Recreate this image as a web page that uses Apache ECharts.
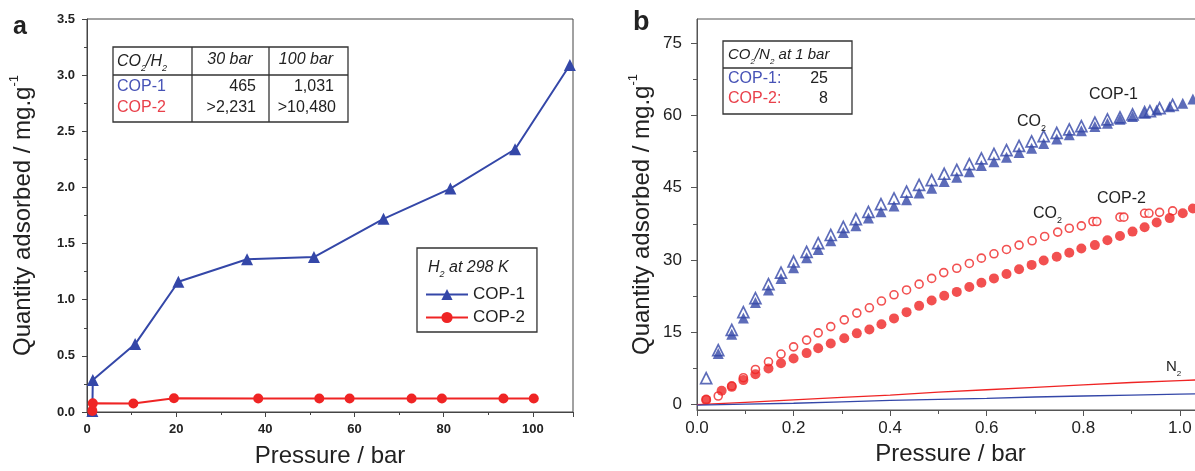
<!DOCTYPE html>
<html>
<head>
<meta charset="utf-8">
<title>COP-1 / COP-2 gas uptake</title>
<script src="https://cdn.jsdelivr.net/npm/echarts@6/dist/echarts.min.js"></script>
<style>
  html, body { margin: 0; padding: 0; background: #fff; }
  #chart { width: 1195px; height: 471px; }
</style>
</head>
<body>
<div id="chart"></div>
<script>
// panel a: H2 uptake at 298 K (bar, mg/g)
const h2PressureCop1 = [1.2, 1.3, 10.8, 20.5, 35.9, 50.9, 66.5, 81.5, 96.0, 108.3]
const h2Cop1 = [0.01, 0.285, 0.605, 1.16, 1.36, 1.38, 1.72, 1.99, 2.34, 3.09]
const h2PressureCop2 = [1.2, 1.3, 10.4, 19.5, 38.4, 52.1, 58.9, 72.8, 79.6, 93.4, 100.2]
const h2Cop2 = [0.01, 0.077, 0.075, 0.122, 0.12, 0.12, 0.12, 0.12, 0.12, 0.12, 0.12]

// panel b: CO2 / N2 uptake (bar, mg/g)
const cop1OpenP = [0.019, 0.044, 0.072, 0.096, 0.121, 0.148, 0.174, 0.2, 0.227, 0.251, 0.277, 0.303, 0.329, 0.355, 0.381, 0.408, 0.434, 0.46, 0.486, 0.512, 0.538, 0.564, 0.589, 0.615, 0.641, 0.667, 0.693, 0.718, 0.745, 0.771, 0.796, 0.824, 0.85, 0.876, 0.902, 0.927, 0.938, 0.958, 0.985]
const cop1Open = [5.5, 11.3, 15.5, 19.2, 22.1, 25.0, 27.4, 29.7, 31.7, 33.5, 35.2, 36.9, 38.5, 40.0, 41.6, 42.8, 44.2, 45.6, 46.6, 47.9, 48.7, 49.9, 51.1, 52.0, 52.8, 53.7, 54.6, 55.7, 56.4, 57.1, 57.8, 58.5, 59.2, 59.6, 60.2, 60.7, 60.9, 61.5, 62.2]
const cop1FilledP = [0.044, 0.072, 0.096, 0.121, 0.148, 0.174, 0.2, 0.227, 0.251, 0.277, 0.303, 0.329, 0.355, 0.381, 0.408, 0.434, 0.46, 0.486, 0.512, 0.538, 0.564, 0.589, 0.615, 0.641, 0.667, 0.693, 0.718, 0.745, 0.771, 0.796, 0.824, 0.85, 0.876, 0.902, 0.927, 0.952, 0.979, 1.006, 1.027]
const cop1Filled = [10.6, 14.6, 18.0, 21.2, 23.8, 26.2, 28.4, 30.5, 32.2, 34.0, 35.7, 37.1, 38.7, 40.0, 41.2, 42.5, 43.9, 44.9, 46.3, 47.2, 48.3, 49.6, 50.4, 51.3, 52.3, 53.2, 54.2, 55.1, 56.0, 56.8, 57.7, 58.4, 59.2, 59.8, 60.5, 61.1, 61.8, 62.5, 63.4]
const cop2OpenP = [0.019, 0.044, 0.072, 0.096, 0.121, 0.148, 0.174, 0.2, 0.227, 0.251, 0.277, 0.305, 0.331, 0.357, 0.382, 0.408, 0.434, 0.46, 0.486, 0.511, 0.538, 0.564, 0.589, 0.615, 0.641, 0.667, 0.694, 0.72, 0.747, 0.771, 0.796, 0.82, 0.828, 0.876, 0.884, 0.927, 0.936, 0.958, 0.985]
const cop2Open = [1.1, 1.8, 3.9, 5.6, 7.3, 8.9, 10.5, 12.0, 13.4, 14.9, 16.2, 17.6, 19.0, 20.1, 21.5, 22.8, 23.8, 25.0, 26.2, 27.4, 28.3, 29.3, 30.4, 31.3, 32.2, 33.1, 34.0, 34.9, 35.8, 36.6, 37.1, 38.0, 38.0, 38.9, 38.9, 39.7, 39.7, 39.9, 40.2]
const cop2FilledP = [0.019, 0.051, 0.072, 0.096, 0.121, 0.148, 0.174, 0.2, 0.227, 0.251, 0.277, 0.305, 0.331, 0.357, 0.382, 0.408, 0.434, 0.46, 0.486, 0.512, 0.538, 0.564, 0.589, 0.615, 0.641, 0.667, 0.693, 0.718, 0.745, 0.771, 0.796, 0.824, 0.85, 0.876, 0.902, 0.927, 0.952, 0.979, 1.006, 1.027]
const cop2Filled = [1.0, 2.9, 3.7, 5.1, 6.3, 7.5, 8.6, 9.6, 10.7, 11.7, 12.7, 13.8, 14.8, 15.6, 16.7, 17.9, 19.2, 20.5, 21.6, 22.6, 23.4, 24.4, 25.3, 26.2, 27.1, 28.1, 29.0, 29.9, 30.7, 31.5, 32.4, 33.1, 34.1, 35.0, 35.9, 36.8, 37.8, 38.7, 39.7, 40.7]
const n2P = [0, 0.1, 0.2, 0.3, 0.4, 0.5, 0.6, 0.7, 0.8, 0.9, 1.0, 1.05]
const n2Cop1 = [-0.1, 0.1, 0.3, 0.6, 0.9, 1.1, 1.3, 1.6, 1.8, 2.0, 2.2, 2.3]
const n2Cop2 = [0, 0.5, 1.0, 1.5, 2.0, 2.6, 3.1, 3.6, 4.1, 4.6, 5.0, 5.2]

// tick values / table texts
const bYTicks = [0, 15, 30, 45, 60, 75]
const bYMinorTicks = [7.5, 22.5, 37.5, 52.5, 67.5]
const h2TableHeads = ['30 bar', '100 bar']
const co2h2Cop1 = ['465', '1,031']
const co2h2Cop2 = ['>2,231', '>10,480']
const co2n2 = ['25', '8']

const BLUE = '#3447a8'
const RED = '#ef2424'
const TXT_BLUE = '#4652b6'
const TXT_RED = '#e9404a'
const FONT = '"Liberation Sans", Arial, sans-serif'
const AX = '#444'

function zip (xs, ys) {
  return xs.map((x, i) => [x, ys[i]])
}

function txt (x, y, text, opt) {
  opt = opt || {}
  return {
    type: 'text',
    x: x,
    y: y,
    z: 100,
    style: {
      text: text,
      fill: opt.color || '#222',
      font: (opt.italic ? 'italic ' : '') + (opt.bold ? 'bold ' : '') + (opt.size || 16) + 'px ' + FONT,
      align: opt.align || 'left',
      verticalAlign: 'middle',
      rich: opt.rich
    }
  }
}

function subRich (size, italic) {
  return {
    t: { fontSize: size, fontStyle: italic ? 'italic' : 'normal', fontFamily: FONT, color: '#222', lineHeight: size + 6 },
    s: { fontSize: Math.round(size * 0.55), fontStyle: italic ? 'italic' : 'normal', fontFamily: FONT, color: '#222', lineHeight: Math.round(size * 0.55), verticalAlign: 'bottom' }
  }
}

function boxLine (x1, y1, x2, y2) {
  return { type: 'line', z: 100, shape: { x1: x1, y1: y1, x2: x2, y2: y2 }, style: { stroke: '#333', lineWidth: 1.3 } }
}

const yNameRich = {
  t: { fontSize: 24, fontFamily: FONT, color: '#222', lineHeight: 30 },
  sup: { fontSize: 13, fontFamily: FONT, color: '#222', lineHeight: 13, verticalAlign: 'top' }
}

let graphics = [
  txt(13, 27, 'a', { bold: true, size: 25 }),
  txt(633, 23, 'b', { bold: true, size: 27 }),
  // table a
  { type: 'rect', z: 100, shape: { x: 113, y: 47, width: 235, height: 75 }, style: { fill: '#fff', stroke: '#333', lineWidth: 1.3 } },
  boxLine(192, 47, 192, 122),
  boxLine(269, 47, 269, 122),
  boxLine(113, 75, 348, 75),
  txt(117, 62, '{t|CO}{s|2}{t|/H}{s|2}', { rich: subRich(16, true) }),
  txt(230, 60, h2TableHeads[0], { italic: true, align: 'center' }),
  txt(306, 60, h2TableHeads[1], { italic: true, align: 'center' }),
  txt(117, 87, 'COP-1', { color: TXT_BLUE }),
  txt(117, 108, 'COP-2', { color: TXT_RED }),
  txt(256, 87, co2h2Cop1[0], { align: 'right' }),
  txt(334, 87, co2h2Cop1[1], { align: 'right' }),
  txt(256, 108, co2h2Cop2[0], { align: 'right' }),
  txt(336, 108, co2h2Cop2[1], { align: 'right' }),
  // legend title a
  txt(428, 268, '{t|H}{s|2}{t| at 298 K}', { rich: subRich(16, true) }),
  // table b
  { type: 'rect', z: 100, shape: { x: 723, y: 41, width: 129, height: 73 }, style: { fill: '#fff', stroke: '#333', lineWidth: 1.3 } },
  boxLine(723, 68, 852, 68),
  txt(728, 55, '{t|CO}{s|2}{t|/N}{s|2}{t| at 1 bar}', { rich: subRich(15, true) }),
  txt(728, 79, 'COP-1:', { color: TXT_BLUE }),
  txt(728, 99, 'COP-2:', { color: TXT_RED }),
  txt(828, 79, co2n2[0], { align: 'right' }),
  txt(828, 99, co2n2[1], { align: 'right' }),
  // curve labels b
  txt(1089, 95, 'COP-1'),
  txt(1017, 122, '{t|CO}{s|2}', { rich: subRich(16, false) }),
  txt(1097, 199, 'COP-2'),
  txt(1033, 214, '{t|CO}{s|2}', { rich: subRich(16, false) }),
  txt(1166, 367, '{t|N}{s|2}', { rich: subRich(15, false) })
]

let chart = echarts.init(document.getElementById('chart'))
let option = {
  animation: false,
  backgroundColor: '#fff',
  textStyle: { fontFamily: FONT },
  grid: [
    { left: 87, top: 19, width: 486, height: 393, show: true, borderColor: AX, borderWidth: 1, outerBoundsMode: 'none' },
    { left: 697, top: 19, width: 507, height: 391, show: true, borderColor: '#555', borderWidth: 1, outerBoundsMode: 'none' }
  ],
  legend: {
    data: ['COP-1', 'COP-2'],
    orient: 'vertical',
    left: 417,
    top: 248,
    padding: [38, 12, 6, 8],
    itemGap: 6,
    itemWidth: 42,
    itemHeight: 14,
    borderColor: '#333',
    borderWidth: 1.3,
    backgroundColor: '#fff',
    textStyle: { fontSize: 17, fontFamily: FONT, color: '#222' },
    selectedMode: false
  },
  xAxis: [
    {
      gridIndex: 0,
      type: 'value',
      min: 0,
      max: 109,
      interval: 20,
      axisLine: { show: true, onZero: false, lineStyle: { color: AX } },
      axisTick: { show: true, length: 5, lineStyle: { color: AX } },
      minorTick: { show: true, splitNumber: 2, length: 3, lineStyle: { color: AX } },
      splitLine: { show: false },
      axisLabel: { margin: 11, fontSize: 13, fontWeight: 'bold', color: '#222', showMaxLabel: false },
      name: 'Pressure / bar',
      nameLocation: 'middle',
      nameGap: 32,
      nameTextStyle: { fontSize: 24, color: '#222' }
    },
    {
      gridIndex: 1,
      type: 'value',
      min: 0,
      max: 1.05,
      interval: 0.2,
      axisLine: { show: true, onZero: false, lineStyle: { color: '#555' } },
      axisTick: { show: true, length: 6, lineStyle: { color: '#555' } },
      minorTick: { show: true, splitNumber: 2, length: 4, lineStyle: { color: '#555' } },
      splitLine: { show: false },
      axisLabel: { margin: 10, fontSize: 17, color: '#222', showMaxLabel: false, formatter: v => v.toFixed(1) },
      name: 'Pressure / bar',
      nameLocation: 'middle',
      nameGap: 32,
      nameTextStyle: { fontSize: 24, color: '#222' }
    }
  ],
  yAxis: [
    {
      gridIndex: 0,
      type: 'value',
      min: 0,
      max: 3.5,
      interval: 0.5,
      axisLine: { show: true, onZero: false, lineStyle: { color: AX } },
      axisTick: { show: true, length: 5, lineStyle: { color: AX } },
      minorTick: { show: true, splitNumber: 2, length: 3, lineStyle: { color: AX } },
      splitLine: { show: false },
      axisLabel: { margin: 12, fontSize: 13, fontWeight: 'bold', color: '#222', formatter: v => v.toFixed(1) },
      name: '{t|Quantity adsorbed / mg.g}{sup|-1}',
      nameLocation: 'middle',
      nameRotate: 90,
      nameGap: 49,
      nameTextStyle: { fontSize: 24, color: '#222', rich: yNameRich }
    },
    {
      gridIndex: 1,
      type: 'value',
      min: -1.1,
      max: 80,
      axisLine: { show: true, onZero: false, lineStyle: { color: '#555' } },
      axisTick: { show: true, length: 6, customValues: bYTicks, lineStyle: { color: '#555' } },
      splitLine: { show: false },
      axisLabel: { margin: 15, fontSize: 17, color: '#222', customValues: bYTicks },
      name: '{t|Quantity adsorbed / mg.g}{sup|-1}',
      nameLocation: 'middle',
      nameRotate: 90,
      nameGap: 40,
      nameTextStyle: { fontSize: 24, color: '#222', rich: yNameRich }
    },
    {
      // minor ticks for panel b
      gridIndex: 1,
      type: 'value',
      min: -1.1,
      max: 80,
      position: 'left',
      axisLine: { show: false },
      axisTick: { show: true, length: 4, customValues: bYMinorTicks, lineStyle: { color: '#555' } },
      axisLabel: { show: false },
      splitLine: { show: false }
    }
  ],
  series: [
    {
      name: 'COP-1',
      type: 'line',
      xAxisIndex: 0,
      yAxisIndex: 0,
      data: zip(h2PressureCop1, h2Cop1),
      symbol: 'triangle',
      symbolSize: 12,
      lineStyle: { width: 2, color: BLUE },
      itemStyle: { color: BLUE }
    },
    {
      name: 'COP-2',
      type: 'line',
      xAxisIndex: 0,
      yAxisIndex: 0,
      data: zip(h2PressureCop2, h2Cop2),
      symbol: 'circle',
      symbolSize: 10,
      lineStyle: { width: 2, color: RED },
      itemStyle: { color: RED }
    },
    {
      name: 'N2 COP-2',
      type: 'line',
      xAxisIndex: 1,
      yAxisIndex: 1,
      data: zip(n2P, n2Cop2),
      symbol: 'none',
      lineStyle: { width: 1.3, color: RED }
    },
    {
      name: 'N2 COP-1',
      type: 'line',
      xAxisIndex: 1,
      yAxisIndex: 1,
      data: zip(n2P, n2Cop1),
      symbol: 'none',
      lineStyle: { width: 1.3, color: BLUE }
    },
    {
      name: 'CO2 COP-1 open',
      type: 'scatter',
      xAxisIndex: 1,
      yAxisIndex: 1,
      data: zip(cop1OpenP, cop1Open),
      symbol: 'triangle',
      symbolSize: 11,
      itemStyle: { color: '#fff', borderColor: BLUE, borderWidth: 1.7 }
    },
    {
      name: 'CO2 COP-1 filled',
      type: 'scatter',
      xAxisIndex: 1,
      yAxisIndex: 1,
      data: zip(cop1FilledP, cop1Filled),
      symbol: 'triangle',
      symbolSize: 11,
      itemStyle: { color: BLUE }
    },
    {
      name: 'CO2 COP-2 open',
      type: 'scatter',
      xAxisIndex: 1,
      yAxisIndex: 1,
      data: zip(cop2OpenP, cop2Open),
      symbol: 'circle',
      symbolSize: 8,
      itemStyle: { color: '#fff', borderColor: RED, borderWidth: 1.6 }
    },
    {
      name: 'CO2 COP-2 filled',
      type: 'scatter',
      xAxisIndex: 1,
      yAxisIndex: 1,
      data: zip(cop2FilledP, cop2Filled),
      symbol: 'circle',
      symbolSize: 10,
      itemStyle: { color: RED }
    }
  ],
  graphic: graphics
}
chart.setOption(option)
</script>
</body>
</html>
